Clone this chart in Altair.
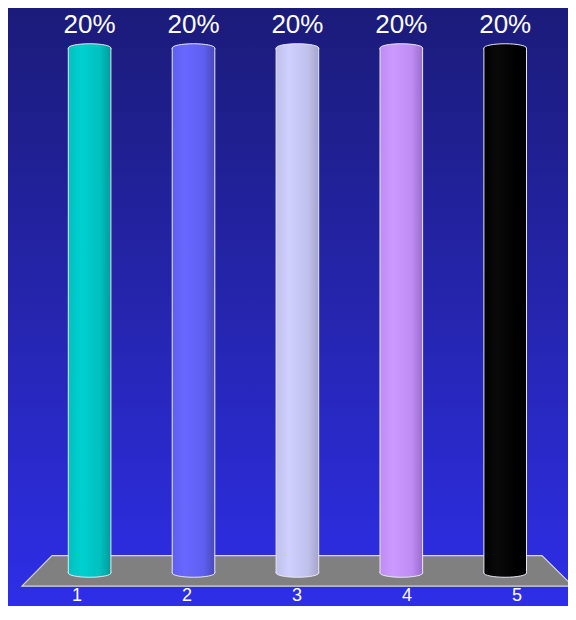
import altair as alt
import pandas as pd

# ---- data ----
categories = [1, 2, 3, 4, 5]
values = [20, 20, 20, 20, 20]
value_labels = ["20%", "20%", "20%", "20%", "20%"]
light_colors = ["#00d0d0", "#6868ff", "#d0d0ff", "#cc99ff", "#0a0a0a"]
mid_colors = ["#00c0c0", "#5e5ef0", "#c0c0ec", "#bf8cf4", "#000000"]
dark_colors = ["#009a9a", "#4848b8", "#a4a4cc", "#9a6ccc", "#000000"]

# floor (category units / value units)
floor_level = [0.66, -0.50]
floor_left = [0.638, 0.349]
floor_right = [5.354, 5.652]

W, H = 560, 598
X_DOMAIN = [0.2146, 5.6044]
Y_DOMAIN = [-1.257, 21.524]
LABEL_DOMAIN = [0.3727, 5.4636]
HALF = 0.205
CAP_SIZE = 42.6 ** 2

df = pd.DataFrame({"cat": categories, "value": values, "label": value_labels})
floor_df = pd.DataFrame({"level": floor_level, "left": floor_left, "right": floor_right})

xs = alt.Scale(domain=X_DOMAIN, nice=False, zero=False)
ys = alt.Scale(domain=Y_DOMAIN, nice=False, zero=False)

bg = alt.Chart(pd.DataFrame({"a": [0]})).mark_rect(
    fill=alt.Gradient(gradient="linear", x1=0, x2=0, y1=0, y2=1,
                      stops=[alt.GradientStop(offset=0, color="#1b1b7a"),
                             alt.GradientStop(offset=0.5, color="#2525ae"),
                             alt.GradientStop(offset=1, color="#2e2ee8")])
).encode(x=alt.value(0), x2=alt.value(W), y=alt.value(0), y2=alt.value(H))

floor = alt.Chart(floor_df).mark_area(
    orient="horizontal", fill="#808080", stroke="#d8d8d8", strokeWidth=1.2
).encode(
    y=alt.Y("level:Q", scale=ys, axis=None),
    x=alt.X("left:Q", scale=xs, axis=None),
    x2="right:Q",
)

TOP_PATH = ("M-1,0.07 L-1,0 C-1,-0.1105 -0.5523,-0.2 0,-0.2 "
            "C0.5523,-0.2 1,-0.1105 1,0 L1,0.07")
BOT_PATH = ("M-1,-0.07 L-1,0 C-1,0.1105 -0.5523,0.2 0,0.2 "
            "C0.5523,0.2 1,0.1105 1,0 L1,-0.07")

layers = [bg, floor]
for i, c in enumerate(categories):
    grad = alt.Gradient(gradient="linear", x1=0, x2=1, y1=0, y2=0,
                        stops=[alt.GradientStop(offset=0, color=mid_colors[i]),
                               alt.GradientStop(offset=0.3, color=light_colors[i]),
                               alt.GradientStop(offset=0.75, color=mid_colors[i]),
                               alt.GradientStop(offset=1, color=dark_colors[i])])
    base = alt.Chart(df).transform_filter(alt.datum.cat == c)
    bar = base.transform_calculate(
        x0=alt.datum.cat - HALF, x1=alt.datum.cat + HALF, zero="0"
    ).mark_rect(fill=grad, stroke="#e8e8f0", strokeWidth=1).encode(
        x=alt.X("x0:Q", scale=xs, axis=None),
        x2="x1:Q",
        y=alt.Y("value:Q", scale=ys, axis=None),
        y2=alt.Y2("zero:Q"),
    )
    top = base.mark_point(shape=TOP_PATH, filled=True, fill=grad, stroke="#e8e8f0",
                          strokeWidth=1, opacity=1, size=CAP_SIZE).encode(
        x=alt.X("cat:Q", scale=xs, axis=None),
        y=alt.Y("value:Q", scale=ys, axis=None),
    )
    bot = base.transform_calculate(zero="0").mark_point(
        shape=BOT_PATH, filled=True, fill=grad, stroke="#e8e8f0",
        strokeWidth=1, opacity=1, size=CAP_SIZE).encode(
        x=alt.X("cat:Q", scale=xs, axis=None),
        y=alt.Y("zero:Q", scale=ys, axis=None),
    )
    layers += [bar, top, bot]

pct = alt.Chart(df).mark_text(
    font="Liberation Sans", fontSize=26, color="white", baseline="alphabetic", dy=-15
).encode(
    x=alt.X("cat:Q", scale=xs, axis=None),
    y=alt.Y("value:Q", scale=ys, axis=None),
    text="label:N",
)
layers.append(pct)

cat_labels = alt.Chart(df).mark_text(
    font="Liberation Sans", fontSize=18, color="white", baseline="alphabetic"
).encode(
    x=alt.X("cat:Q", scale=alt.Scale(domain=LABEL_DOMAIN, nice=False, zero=False), axis=None),
    y=alt.value(593),
    text="cat:N",
)
layers.append(cat_labels)

chart = alt.layer(*layers).resolve_scale(x="independent").properties(
    width=W, height=H, padding=0, autosize=alt.AutoSizeParams(type="none"),
    background="#1b1b7a"
).configure_view(stroke=None)

chart.save("out.html", embed_options={"renderer": "svg", "actions": False})
